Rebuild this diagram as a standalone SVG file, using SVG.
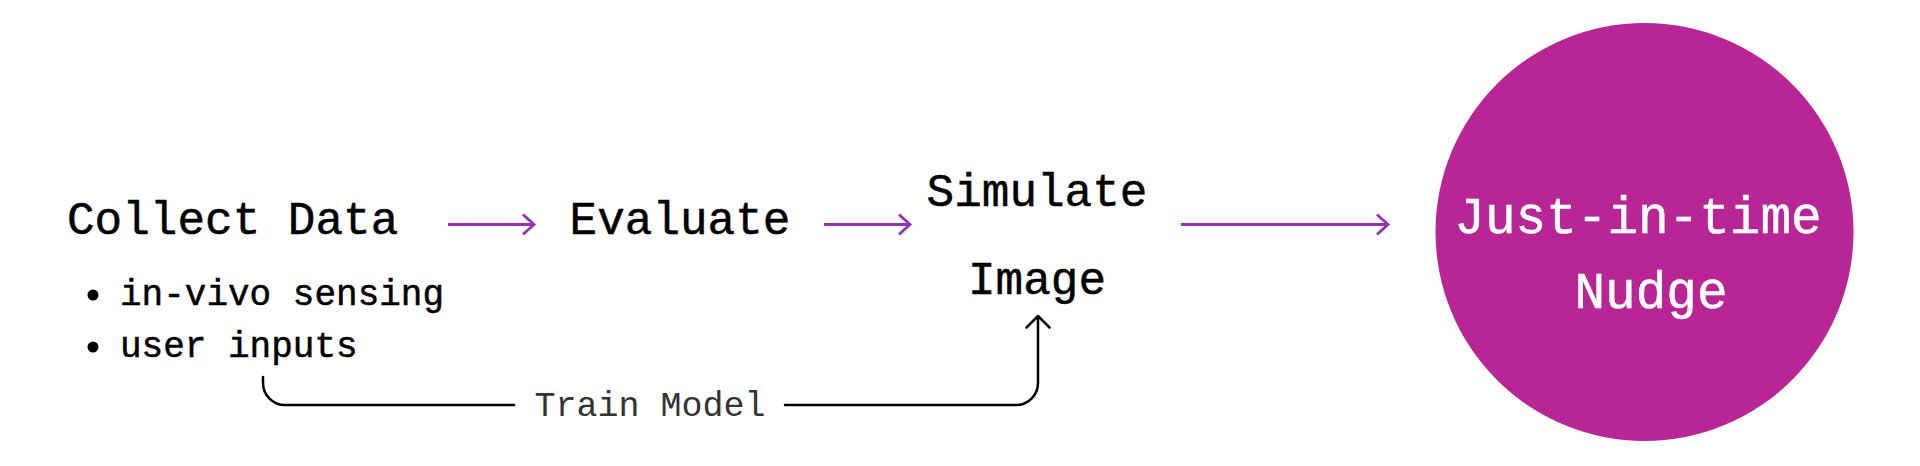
<svg xmlns="http://www.w3.org/2000/svg" width="1920" height="466" viewBox="0 0 1920 466">
  <style>
    .t { font-family: "Liberation Mono", "DejaVu Sans Mono", monospace; fill: #000; stroke: #000; stroke-width: 0.5; }
    .big { font-size: 46px; }
    .sm { font-size: 36px; }
    .wt { font-family: "Liberation Mono", "DejaVu Sans Mono", monospace; fill: #fff; stroke: #fff; stroke-width: 0.5; font-size: 51px; }
    .lbl { font-family: "Liberation Mono", "DejaVu Sans Mono", monospace; fill: #333; font-size: 35px; }
    .flow { stroke: #9431B3; stroke-width: 2.8; fill: none; }
    .train { stroke: #000; stroke-width: 2.5; fill: none; stroke-linecap: round; stroke-linejoin: round; }
  </style>
  <rect width="1920" height="466" fill="#fff"/>

  <g id="collect">
    <text class="t big" x="67" y="234">Collect Data</text>
    <circle cx="93" cy="295" r="5.5" fill="#000"/>
    <text class="t sm" x="120" y="305">in-vivo sensing</text>
    <circle cx="93" cy="347" r="5.5" fill="#000"/>
    <text class="t sm" x="120" y="357">user inputs</text>
  </g>

  <g id="evaluate">
    <text class="t big" x="680" y="234" text-anchor="middle">Evaluate</text>
  </g>

  <g id="simulate">
    <text class="t big" x="1037" y="206" text-anchor="middle">Simulate</text>
    <text class="t big" x="1037" y="294" text-anchor="middle">Image</text>
  </g>

  <g id="nudge">
    <circle cx="1644.5" cy="232" r="209" fill="#B72694"/>
    <text class="wt" x="1638" y="233" text-anchor="middle">Just-in-time</text>
    <text class="wt" x="1651" y="308" text-anchor="middle">Nudge</text>
  </g>

  <g id="connectors">
    <path class="flow" d="M448 224.5 H534 M523 214.5 L534 224.5 L523 234.5"/>
    <path class="flow" d="M824 224.5 H910 M899 214.5 L910 224.5 L899 234.5"/>
    <path class="flow" d="M1181 224.5 H1388 M1377 214.5 L1388 224.5 L1377 234.5"/>
    <path class="train" d="M263 377 V383 A22 22 0 0 0 285 405 H514"/>
    <path class="train" d="M785 405 H1016 A22 22 0 0 0 1038 383 V316 M1026.5 327.5 L1038 316 L1049.5 327.5"/>
    <text class="lbl" x="650" y="416" text-anchor="middle">Train Model</text>
  </g>
</svg>
